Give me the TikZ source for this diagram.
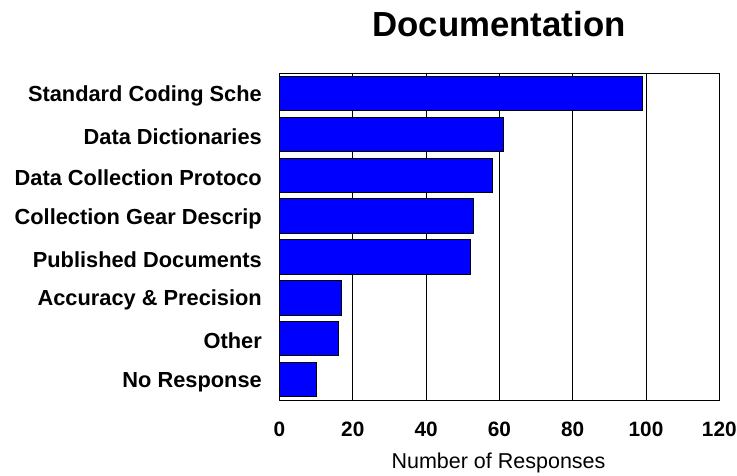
\documentclass[tikz,border=0pt]{standalone}
\usepackage{fontspec}
\setmainfont{Liberation Sans}
\begin{document}
\begin{tikzpicture}[x=1pt,y=-1pt,
  barbox/.style={draw=black,line width=0.9pt,fill={rgb,255:red,0;green,0;blue,255}},
  grid line/.style={draw=black,line width=0.9pt},
  catlabel/.style={anchor=east,inner sep=0pt,font=\fontsize{21.8}{24}\selectfont\bfseries},
  ticklabel/.style={anchor=base,inner sep=0pt,font=\fontsize{20.8}{24}\selectfont\bfseries},
  axtitle/.style={anchor=base,inner sep=0pt,font=\fontsize{21.5}{26}\selectfont},
  charttitle/.style={anchor=base,inner sep=0pt,font=\fontsize{34.8}{40}\selectfont\bfseries}]
\useasboundingbox (0,0) rectangle (737,475);
% plot area: x0=279.5, unit=3.665 px per response; y from 73 to 400
\def\xz{279.5}
\def\ux{3.665}
\def\yt{73}
\def\slot{40.875}
% grid lines
\foreach \v in {20,40,60,80,100} {
  \draw[grid line] ({\xz+\v*\ux},\yt) -- ({\xz+\v*\ux},400);
}
% bars
\foreach \val/\lab [count=\i from 0] in {99/Standard Coding Sche,61/Data Dictionaries,58/Data Collection Protoco,53/Collection Gear Descrip,52/Published Documents,17/Accuracy \& Precision,16/Other,10/No Response} {
  \path[barbox] (\xz,{\yt+\i*\slot+3.2}) rectangle ({\xz+\val*\ux},{\yt+(\i+1)*\slot-3.2});
  \node[catlabel] (c\i) at (262,{\yt+(\i+0.5)*\slot+2.5}) {\lab};
}
% frame
\draw[grid line] (\xz,\yt) rectangle ({\xz+120*\ux},400);
% tick labels
\foreach \v in {0,20,40,60,80,100,120} {
  \node[ticklabel] (t\v) at ({\xz+\v*\ux},436.7) {\v};
}
\node[axtitle] (xt) at (498.5,468) {Number of Responses};
\node[charttitle] (ttl) at (499,36.7) {Documentation};
\end{tikzpicture}
\end{document}
